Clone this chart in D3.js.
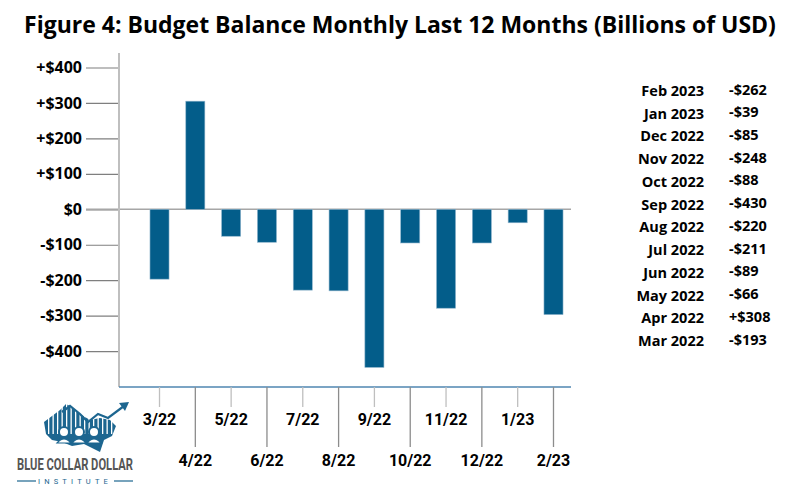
<!DOCTYPE html>
<html>
<head>
<meta charset="utf-8">
<script src="https://cdn.jsdelivr.net/npm/d3@7"></script>
<style>
  body { margin: 0; background: #fff; }
  svg { display: block; font-family: "Open Sans", "Noto Sans", sans-serif; }
</style>
</head>
<body>
<svg id="chart" width="800" height="500"></svg>
<script>
// bar labels and heights
const months = ["3/22", "4/22", "5/22", "6/22", "7/22", "8/22", "9/22", "10/22", "11/22", "12/22", "1/23", "2/23"];
const balance = [-197, 305, -76, -93, -228, -230, -446, -95, -279, -95, -38, -297];

const yTicks = [400, 300, 200, 100, 0, -100, -200, -300, -400];

// side table, newest first
const tableMonths = ["Feb 2023", "Jan 2023", "Dec 2022", "Nov 2022", "Oct 2022", "Sep 2022",
  "Aug 2022", "Jul 2022", "Jun 2022", "May 2022", "Apr 2022", "Mar 2022"];
const tableValues = ["-$262", "-$39", "-$85", "-$248", "-$88", "-$430",
  "-$220", "-$211", "-$89", "-$66", "+$308", "-$193"];

const svg = d3.select("#chart");

const title = svg.append("text")
  .attr("x", 400).attr("y", 33)
  .attr("text-anchor", "middle")
  .attr("font-size", 24).attr("font-weight", "bold")
  .text("Figure 4: Budget Balance Monthly Last 12 Months (Billions of USD)");
// shrink/grow so the title spans about 752px like the original
const tw = title.node().getComputedTextLength();
if (tw > 0) title.attr("font-size", 24 * 752 / tw);

const x = d3.scaleBand().domain(months).range([141.6, 571.4]).paddingInner(0.468).paddingOuter(0.234);
const y = d3.scaleLinear().domain([-400, 400]).range([351.1, 67.5]);

const axisLeftX = 119, axisBottomY = 387;

// y ticks + labels
const yAxis = d3.axisLeft(y).tickValues(yTicks).tickSize(33).tickPadding(4)
  .tickFormat(d => d > 0 ? "+$" + d : d < 0 ? "-$" + Math.abs(d) : "$0");
const gy = svg.append("g").attr("transform", `translate(${axisLeftX},0)`).call(yAxis);
gy.select(".domain").remove();
gy.selectAll(".tick line").attr("stroke", "#7f7f7f").attr("stroke-width", 1.2);
gy.selectAll(".tick text").attr("font-size", 16).attr("font-weight", "bold").attr("fill", "#000")
  .attr("font-family", "'Open Sans', sans-serif");

// zero line
svg.append("line")
  .attr("x1", 86).attr("x2", 571)
  .attr("y1", y(0)).attr("y2", y(0))
  .attr("stroke", "#a6a6a6").attr("stroke-width", 1.6);

// vertical axis
svg.append("line")
  .attr("x1", axisLeftX).attr("x2", axisLeftX)
  .attr("y1", 53).attr("y2", axisBottomY)
  .attr("stroke", "#bfbfbf").attr("stroke-width", 2);

// bars
svg.append("g").selectAll("rect").data(balance).join("rect")
  .attr("x", (d, i) => x(months[i]))
  .attr("width", x.bandwidth())
  .attr("y", d => Math.min(y(d), y(0)))
  .attr("height", d => Math.abs(y(d) - y(0)))
  .attr("fill", "#035d8a")
  .attr("stroke", "#8fb4cc").attr("stroke-width", 0.6);

// bottom axis with staggered labels
const gx = svg.append("g");
gx.append("line")
  .attr("x1", axisLeftX).attr("x2", 571)
  .attr("y1", axisBottomY).attr("y2", axisBottomY)
  .attr("stroke", "#4f86b0").attr("stroke-width", 1.5);
const tk = gx.selectAll("g.xt").data(months).join("g").attr("class", "xt")
  .attr("transform", d => `translate(${x(d) + x.bandwidth() / 2},0)`);
tk.append("line")
  .attr("y1", axisBottomY).attr("y2", (d, i) => i % 2 === 0 ? 407 : 447)
  .attr("stroke", (d, i) => i % 2 === 0 ? "#bfbfbf" : "#8c8c8c").attr("stroke-width", 1.3);
tk.append("text")
  .attr("y", (d, i) => i % 2 === 0 ? 425 : 466)
  .attr("text-anchor", "middle")
  .attr("font-size", 16).attr("font-weight", "bold")
  .attr("font-family", "Roboto, 'Open Sans', sans-serif")
  .text(d => d);

// side table
const rowY = d3.scaleLinear().domain([0, tableMonths.length - 1]).range([96, 346]);
const tbl = svg.append("g").attr("font-size", 14.5).attr("font-weight", "bold");
tbl.selectAll("text.m").data(tableMonths).join("text").attr("class", "m")
  .attr("x", 704).attr("y", (d, i) => rowY(i))
  .attr("text-anchor", "end").text(d => d);
tbl.selectAll("text.v").data(tableValues).join("text").attr("class", "v")
  .attr("x", 729).attr("y", (d, i) => rowY(i) - 1.5)
  .text(d => d);

// logo (decorative)
const logo = svg.append("g");
const blue = "#1d6690";
// map-ish silhouette
logo.append("path")
  .attr("d", "M44,422 L60,410 L66,404 L72,407 L80,414 L90,420 L100,418 L110,420 L116,426 L112,436 L104,440 L100,452 L92,448 L84,444 L72,446 L62,442 L52,440 L46,434 Z")
  .attr("fill", blue);
// white stripes through it
const stripes = d3.range(48, 114, 4.5);
logo.selectAll("rect.st").data(stripes).join("rect").attr("class", "st")
  .attr("x", d => d).attr("width", 1.3)
  .attr("y", 404).attr("height", 30)
  .attr("fill", "#fff");
logo.append("path")
  .attr("d", "M62,412 L70,406 L80,414 L88,422 L98,414 L108,418 L124,406")
  .attr("fill", "none").attr("stroke", blue).attr("stroke-width", 2.2);
logo.append("path").attr("d", "M119,403 L129,402 L125,411 Z").attr("fill", blue);
[64, 79, 94].forEach(cx => {
  logo.append("circle").attr("cx", cx).attr("cy", 432).attr("r", 5).attr("fill", "#fff").attr("stroke", blue).attr("stroke-width", 2);
  logo.append("path").attr("d", `M${cx - 7},443 Q${cx},435 ${cx + 7},443 Z`).attr("fill", "#fff").attr("stroke", blue).attr("stroke-width", 1.2);
});
// squeeze the wordmark horizontally to ~116px
const word = logo.append("text")
  .attr("x", 0).attr("y", 0).attr("text-anchor", "middle")
  .attr("font-family", "'Liberation Sans Narrow', 'Roboto', sans-serif")
  .attr("font-size", 17).attr("font-weight", "bold").attr("fill", "#555")
  .text("BLUE COLLAR DOLLAR");
const ww = word.node().getComputedTextLength() || 116;
word.attr("transform", `translate(75,470) scale(${116 / ww},1)`);
logo.append("text")
  .attr("x", 75).attr("y", 484).attr("text-anchor", "middle")
  .attr("font-family", "Roboto, sans-serif")
  .attr("font-size", 7.5).attr("fill", blue)
  .attr("letter-spacing", 4.2)
  .text("INSTITUTE");
logo.append("line").attr("x1", 17).attr("x2", 36).attr("y1", 481).attr("y2", 481).attr("stroke", blue).attr("stroke-width", 1.2);
logo.append("line").attr("x1", 114).attr("x2", 133).attr("y1", 481).attr("y2", 481).attr("stroke", blue).attr("stroke-width", 1.2);
</script>
</body>
</html>
